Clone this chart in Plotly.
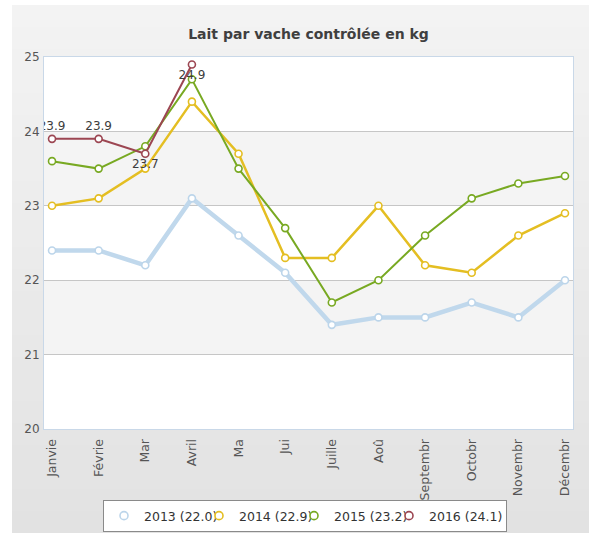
import plotly.graph_objects as go

months = ["Janvie", "Févrie", "Mar", "Avril", "Ma", "Jui", "Juille", "Aoû",
          "Septembr", "Octobr", "Novembr", "Décembr"]
y2013 = [22.4, 22.4, 22.2, 23.1, 22.6, 22.1, 21.4, 21.5, 21.5, 21.7, 21.5, 22.0]
y2014 = [23.0, 23.1, 23.5, 24.4, 23.7, 22.3, 22.3, 23.0, 22.2, 22.1, 22.6, 22.9]
y2015 = [23.6, 23.5, 23.8, 24.7, 23.5, 22.7, 21.7, 22.0, 22.6, 23.1, 23.3, 23.4]
y2016 = [23.9, 23.9, 23.7, 24.9]
series_names = ["2013 (22.0)", "2014 (22.9)", "2015 (23.2)", "2016 (24.1)"]
y_ticks = [20, 21, 22, 23, 24, 25]

W, H = 589, 533
L, R, T, B = 44, 16, 57, 104
pw, ph = W - L - R, H - T - B


def px_x(p):
    return (p - L) / pw


def px_y(p):
    return (H - B - p) / ph


fig = go.Figure()

styles = [
    dict(color="#c0d8ec", width=4.5, mcolor="#bcd5ea"),
    dict(color="#e4be22", width=2.5, mcolor="#e4be22"),
    dict(color="#78a922", width=2, mcolor="#78a922"),
    dict(color="#9c4652", width=2, mcolor="#9c4652"),
]
all_y = [y2013, y2014, y2015, y2016]
for name, ys, st in zip(series_names, all_y, styles):
    idx = list(range(len(ys)))
    is_last = ys is y2016
    fig.add_trace(go.Scatter(
        x=idx, y=ys, name=name, showlegend=False,
        mode="lines+markers+text" if is_last else "lines+markers",
        line=dict(color=st["color"], width=st["width"]),
        marker=dict(symbol="circle", size=7, color="white",
                    line=dict(color=st["mcolor"], width=1.6)),
        texttemplate="%{y:.1f}" if is_last else None,
        textposition=["top center", "top center", "bottom center", "bottom center"] if is_last else None,
        textfont=dict(family="DejaVu Sans", size=12, color="#3d3d3d"),
        hoverinfo="skip",
    ))

# legend entries (marker-style symbol like the original)
for k, (name, st) in enumerate(zip(series_names, styles)):
    fig.add_trace(go.Scatter(
        x=[None], y=[None], name=name, mode="markers", showlegend=True,
        marker=dict(symbol="circle", size=8, color="white",
                    line=dict(color=st["mcolor"], width=1.6)),
        legendwidth=72 if k == len(series_names) - 1 else None,
        hoverinfo="skip",
    ))

shapes = []
# gray panel with vertical gradient
n = 24
y_top, y_bot = 5, 533
c_top, c_bot = 0xf3, 0xe2
for i in range(n):
    a = y_top + (y_bot - y_top) * i / n
    b = y_top + (y_bot - y_top) * (i + 1) / n
    c = round(c_top + (c_bot - c_top) * (i + 0.5) / n)
    col = "#%02x%02x%02x" % (c, c, c)
    shapes.append(dict(type="rect", xref="paper", yref="paper", layer="below",
                       x0=px_x(12), x1=px_x(W + 2), y0=px_y(b + 0.5), y1=px_y(a),
                       fillcolor=col, line=dict(width=0)))
# white plot area
shapes.append(dict(type="rect", xref="paper", yref="paper", layer="below",
                   x0=0, x1=1, y0=0, y1=1, fillcolor="white", line=dict(width=0)))
# alternate bands in plot area
for lo, hi in [(21, 22), (23, 24)]:
    shapes.append(dict(type="rect", xref="paper", yref="y", layer="below",
                       x0=0, x1=1, y0=lo, y1=hi, fillcolor="#f4f4f4",
                       line=dict(width=0)))

fig.update_layout(
    width=W, height=H, autosize=False,
    margin=dict(l=L, r=R, t=T, b=B, autoexpand=False),
    paper_bgcolor="white", plot_bgcolor="white",
    font=dict(family="DejaVu Sans", size=12, color="#444444"),
    title=dict(text="<b>Lait par vache contrôlée en kg</b>", x=0.5, xref="paper",
               xanchor="center", y=1 - 34 / H, yanchor="middle",
               font=dict(family="DejaVu Sans", size=14, color="#3f3f3f")),
    shapes=shapes,
    showlegend=True,
    legend=dict(orientation="h", x=px_x(103), y=px_y(532), xanchor="left", yanchor="bottom",
                bgcolor="white", bordercolor="#8a8a8a", borderwidth=1,
                entrywidth=50, entrywidthmode="pixels",
                font=dict(family="DejaVu Sans", size=12.5, color="#333333"),
                itemclick=False, itemdoubleclick=False),
    hovermode=False,
)
fig.update_xaxes(
    range=[-0.172, 11.172], tickmode="array", tickvals=list(range(len(months))),
    ticktext=months, tickangle=-90, showgrid=False, zeroline=False,
    showline=True, mirror=True, linecolor="#c9d8e8", linewidth=1,
    ticks="", ticklabelstandoff=4,
    tickfont=dict(family="DejaVu Sans", size=12.5, color="#555555"),
)
fig.update_yaxes(
    range=[20, 25], tickmode="array", tickvals=y_ticks,
    showgrid=True, gridcolor="#c6c6c6", gridwidth=1, zeroline=False,
    showline=True, mirror=True, linecolor="#c9d8e8", linewidth=1,
    ticks="", ticklabelstandoff=1,
    tickfont=dict(family="DejaVu Sans", size=12, color="#555555"),
)

fig.write_html("out.html", config={"displayModeBar": False},
               post_script="document.body.style.margin='0px';document.body.style.padding='0px';")
